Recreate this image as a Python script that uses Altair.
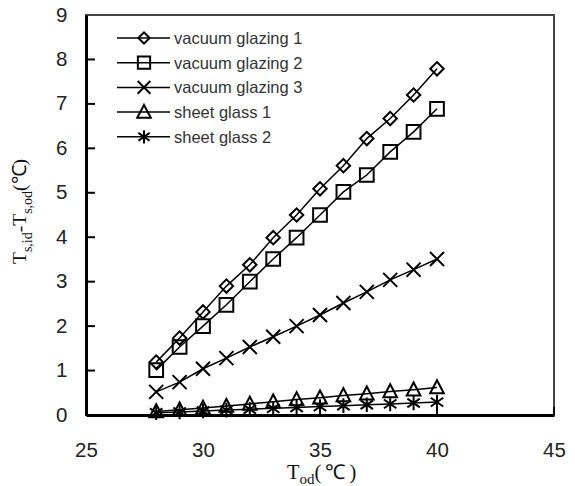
import altair as alt
import pandas as pd

# ---- data ----
t_od = [28, 29, 30, 31, 32, 33, 34, 35, 36, 37, 38, 39, 40]
vacuum_glazing_1 = [1.19, 1.73, 2.32, 2.90, 3.38, 3.99, 4.50, 5.09, 5.61, 6.22, 6.67, 7.20, 7.79]
vacuum_glazing_2 = [1.01, 1.53, 2.00, 2.48, 3.00, 3.51, 3.99, 4.50, 5.02, 5.40, 5.92, 6.37, 6.89]
vacuum_glazing_3 = [0.52, 0.74, 1.04, 1.28, 1.53, 1.76, 2.00, 2.25, 2.52, 2.77, 3.04, 3.27, 3.51]
sheet_glass_1 = [0.08, 0.12, 0.16, 0.20, 0.25, 0.30, 0.35, 0.39, 0.44, 0.48, 0.53, 0.57, 0.62]
sheet_glass_2 = [0.05, 0.07, 0.09, 0.11, 0.13, 0.15, 0.17, 0.19, 0.21, 0.23, 0.25, 0.27, 0.29]

series_names = ["vacuum glazing 1", "vacuum glazing 2", "vacuum glazing 3",
                "sheet glass 1", "sheet glass 2"]
series_values = [vacuum_glazing_1, vacuum_glazing_2, vacuum_glazing_3,
                 sheet_glass_1, sheet_glass_2]

x_ticks = [25, 30, 35, 40, 45]
y_ticks = [0, 1, 2, 3, 4, 5, 6, 7, 8, 9]

# ---- styles ----
shapes = [
    "diamond",
    "square",
    "M-1,-1L1,1M-1,1L1,-1",
    "M0,-1L0.95,0.8L-0.95,0.8Z",
    "M0,-1L0,1M-0.85,-0.6L0.85,0.6M-0.85,0.6L0.85,-0.6",
]
sizes = [180, 215, 230, 290, 250]

rows = []
for name, vals in zip(series_names, series_values):
    for x, y in zip(t_od, vals):
        rows.append({"series": name, "t": x, "v": y})
df = pd.DataFrame(rows)

W, H = 468, 400
xs = alt.Scale(domain=[25, 45], nice=False)
ys = alt.Scale(domain=[0, 9], nice=False)

x_enc = alt.X("t:Q", scale=xs, axis=alt.Axis(
    values=x_ticks, title=None, grid=False, ticks=False, tickSize=0,
    labelPadding=25, labelFontSize=20.5, labelFont="Liberation Sans",
    labelColor="#222", labelFlush=False, labelOverlap=False,
    domainColor="black", domainWidth=3))
y_enc = alt.Y("v:Q", scale=ys, axis=alt.Axis(
    values=y_ticks, title=None, grid=False, ticks=False, tickSize=0,
    labelPadding=19, labelFontSize=20.5, labelFont="Liberation Sans",
    labelColor="#222", labelOverlap=False,
    domainColor="black", domainWidth=3))

base = alt.Chart(df)
lines = base.mark_line(color="black", strokeWidth=1.5).encode(
    x=x_enc, y=y_enc, detail="series:N")
points = base.mark_point(filled=False, color="black", strokeWidth=2, opacity=1).encode(
    x="t:Q", y="v:Q",
    shape=alt.Shape("series:N", scale=alt.Scale(domain=series_names, range=shapes), legend=None),
    size=alt.Size("series:N", scale=alt.Scale(domain=series_names, range=sizes), legend=None),
)

# inward ticks
ytick_df = pd.DataFrame({"v": y_ticks[1:-1]})
ytick_layer = alt.Chart(ytick_df).mark_rule(color="black", strokeWidth=2).encode(
    y="v:Q", x=alt.value(0), x2=alt.value(9))
xtick_df = pd.DataFrame({"t": x_ticks[1:]})
xtick_layer = alt.Chart(xtick_df).mark_rule(color="black", strokeWidth=2).encode(
    x="t:Q", y=alt.value(H), y2=alt.value(H - 8))

layers = [lines, points, ytick_layer, xtick_layer]

# legend (drawn inside plot, top-left)
leg_df = pd.DataFrame({"series": series_names})
for i, name in enumerate(series_names):
    yy = 23 + i * 24.7
    one = alt.Chart(leg_df).transform_filter(alt.datum.series == name)
    layers.append(one.mark_rule(color="black", strokeWidth=1.5).encode(
        x=alt.value(31), x2=alt.value(84), y=alt.value(yy)))
    layers.append(one.mark_point(filled=False, color="black", strokeWidth=2, opacity=1,
                                 shape=shapes[i], size=sizes[i] * 0.7).encode(
        x=alt.value(58), y=alt.value(yy)))
    layers.append(one.mark_text(align="left", baseline="middle", fontSize=16.5,
                                font="Liberation Sans", color="#333").encode(
        x=alt.value(88), y=alt.value(yy + 1), text="series:N"))

# axis titles with subscripts
serif = "Liberation Serif"
tw = {"T": 0.611, "s": 0.389, ",": 0.25, "i": 0.278, "d": 0.5, "o": 0.5, "-": 0.333}

def width(s, fs):
    return sum(tw.get(c, 0.5) for c in s) * fs

title_df = pd.DataFrame({"k": [0]})
# y title (rotated)
main_fs, sub_fs = 19.5, 14
segs = [("T", False), ("s,id", True), ("-T", False), ("s,od", True), ("(℃)", False)]
pos = 249
for s, sub in segs:
    fs = sub_fs if sub else main_fs
    layers.append(alt.Chart(title_df).mark_text(
        align="left", baseline="alphabetic", angle=270, fontSize=fs, font=serif,
        color="#111").encode(
        x=alt.value(-54 if sub else -60), y=alt.value(pos), text=alt.value(s)))
    pos -= width(s, fs)

# x title
main_fs, sub_fs = 20.5, 15
segs = [("T", False), ("od", True), ("(\u2009℃\u2009)", False)]
pos = 201
for s, sub in segs:
    fs = sub_fs if sub else main_fs
    layers.append(alt.Chart(title_df).mark_text(
        align="left", baseline="alphabetic", fontSize=fs, font=serif,
        color="#111").encode(
        x=alt.value(pos), y=alt.value(469 if sub else 464), text=alt.value(s)))
    pos += width(s, fs)

chart = alt.layer(*layers).properties(
    width=W, height=H,
    autosize=alt.AutoSizeParams(type="none"),
    padding={"left": 86, "top": 15, "right": 21, "bottom": 71},
    background="white",
).configure_view(stroke="#444", strokeWidth=2)

chart.save("out.html", embed_options={"renderer": "svg", "actions": False})
